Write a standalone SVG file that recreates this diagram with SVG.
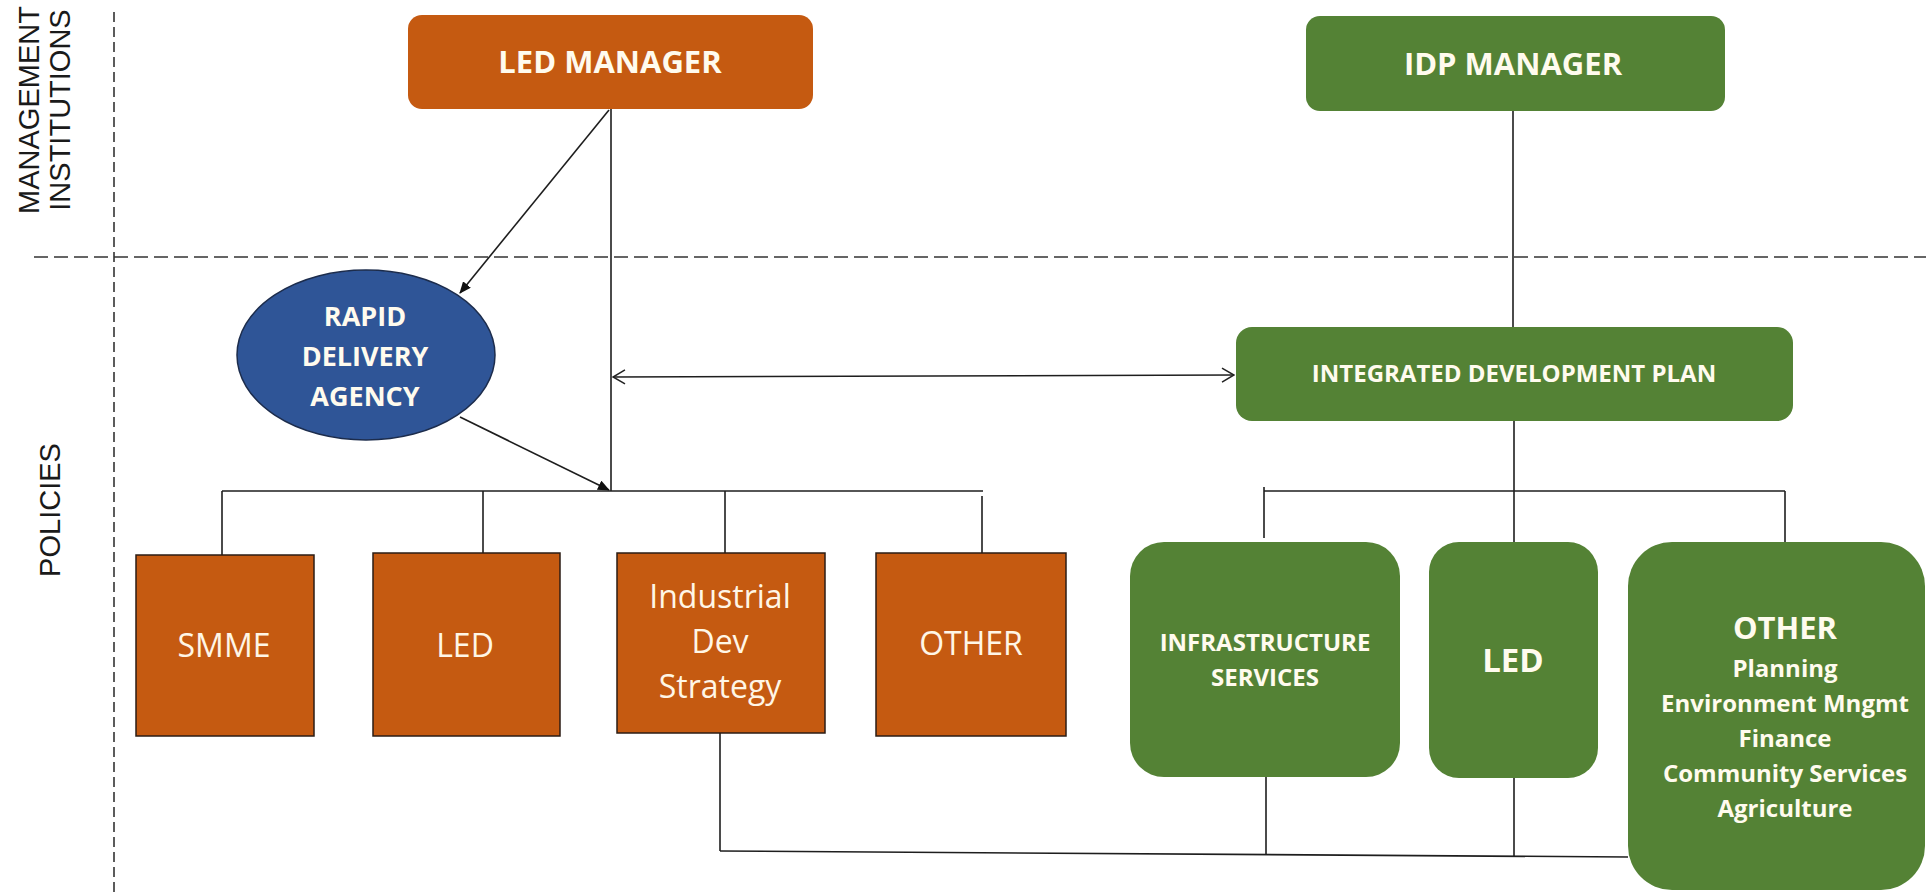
<svg xmlns="http://www.w3.org/2000/svg" width="1926" height="893" viewBox="0 0 1926 893">
  <style>
    .lbl { font-family: "Liberation Sans", Arial, sans-serif; font-size: 29px; fill: #1a1a1a; }
    .b { font-family: "Open Sans", "Liberation Sans", sans-serif; font-weight: 700; fill: #fffbee; text-anchor: middle; }
    .r { font-family: "Open Sans", "Liberation Sans", sans-serif; font-weight: 400; fill: #fff6e6; text-anchor: middle; font-size: 32px; }
    .orange { fill: #c55a11; }
    .obox { fill: #c55a11; stroke: #2b1d14; stroke-width: 1.5; }
    .green { fill: #548235; }
    .wire { stroke: #1e1e1e; stroke-width: 1.6; fill: none; }
    .guide { stroke: #333; stroke-width: 1.6; fill: none; }
  </style>
  <defs>
    <marker id="solid" viewBox="0 0 12 10" refX="11" refY="5" markerWidth="12" markerHeight="10" markerUnits="userSpaceOnUse" orient="auto">
      <path d="M0,0 L12,5 L0,10 z" fill="#111"/>
    </marker>
    <marker id="open" viewBox="0 0 14 16" refX="13" refY="8" markerWidth="14" markerHeight="16" markerUnits="userSpaceOnUse" orient="auto-start-reverse">
      <path d="M1,1 L13,8 L1,15" fill="none" stroke="#222" stroke-width="1.5"/>
    </marker>
  </defs>

  <rect width="1926" height="893" fill="#ffffff"/>

  <!-- section guides -->
  <g id="guides">
    <line class="guide" x1="34" y1="257" x2="1926" y2="257" stroke-dasharray="14 6"/>
    <line class="guide" x1="114" y1="12" x2="114" y2="893" stroke-width="1.3" stroke-dasharray="10 5"/>
    <text class="lbl" transform="translate(39,110) rotate(-90)" text-anchor="middle">MANAGEMENT</text>
    <text class="lbl" transform="translate(70,110) rotate(-90)" text-anchor="middle">INSTITUTIONS</text>
    <text class="lbl" transform="translate(60,510) rotate(-90)" text-anchor="middle" font-size="27">POLICIES</text>
  </g>

  <!-- connectors -->
  <g id="connectors">
    <line class="wire" x1="611" y1="109" x2="611" y2="491"/>
    <line class="wire" x1="609" y1="110" x2="460" y2="293" marker-end="url(#solid)"/>
    <line class="wire" x1="460" y1="417" x2="609" y2="490" marker-end="url(#solid)"/>
    <line class="wire" x1="613" y1="377" x2="1234" y2="375" marker-start="url(#open)" marker-end="url(#open)"/>
    <!-- LED bus -->
    <line class="wire" x1="222" y1="491" x2="983" y2="491"/>
    <line class="wire" x1="222" y1="491" x2="222" y2="555"/>
    <line class="wire" x1="483" y1="491" x2="483" y2="553"/>
    <line class="wire" x1="725" y1="491" x2="725" y2="553"/>
    <line class="wire" x1="982" y1="496" x2="982" y2="553"/>
    <!-- IDP bus -->
    <line class="wire" x1="1513" y1="111" x2="1513" y2="327"/>
    <line class="wire" x1="1514" y1="421" x2="1514" y2="542"/>
    <line class="wire" x1="1264" y1="491" x2="1785" y2="491"/>
    <line class="wire" x1="1264" y1="487" x2="1264" y2="538"/>
    <line class="wire" x1="1785" y1="491" x2="1785" y2="542"/>
    <!-- bottom link -->
    <line class="wire" x1="720" y1="733" x2="720" y2="851"/>
    <line class="wire" x1="720" y1="851" x2="1628" y2="857"/>
    <line class="wire" x1="1266" y1="777" x2="1266" y2="855"/>
    <line class="wire" x1="1514" y1="778" x2="1514" y2="857"/>
  </g>

  <g id="led-manager">
    <rect class="orange" x="408" y="15" width="405" height="94" rx="14"/>
    <text class="b" x="610" y="73" font-size="31">LED MANAGER</text>
  </g>

  <g id="idp-manager">
    <rect class="green" x="1306" y="16" width="419" height="95" rx="14"/>
    <text class="b" x="1513" y="75" font-size="31">IDP MANAGER</text>
  </g>

  <g id="rapid-delivery-agency">
    <ellipse cx="366" cy="355" rx="129" ry="85" fill="#2f5597" stroke="#1c2c4c" stroke-width="1.5"/>
    <text class="b" font-size="27"><tspan x="365" y="326">RAPID</tspan><tspan x="365" y="366">DELIVERY</tspan><tspan x="365" y="406">AGENCY</tspan></text>
  </g>

  <g id="integrated-development-plan">
    <rect class="green" x="1236" y="327" width="557" height="94" rx="16"/>
    <text class="b" x="1514" y="382" font-size="24">INTEGRATED DEVELOPMENT PLAN</text>
  </g>

  <g id="smme">
    <rect class="obox" x="136" y="555" width="178" height="181"/>
    <text class="r" x="224" y="657">SMME</text>
  </g>

  <g id="led-policy">
    <rect class="obox" x="373" y="553" width="187" height="183"/>
    <text class="r" x="465" y="657">LED</text>
  </g>

  <g id="industrial-dev-strategy">
    <rect class="obox" x="617" y="553" width="208" height="180"/>
    <text class="r"><tspan x="720" y="608">Industrial</tspan><tspan x="720" y="653">Dev</tspan><tspan x="720" y="698">Strategy</tspan></text>
  </g>

  <g id="other-policy">
    <rect class="obox" x="876" y="553" width="190" height="183"/>
    <text class="r" x="971" y="655">OTHER</text>
  </g>

  <g id="infrastructure-services">
    <rect class="green" x="1130" y="542" width="270" height="235" rx="34"/>
    <text class="b" font-size="24"><tspan x="1265" y="651">INFRASTRUCTURE</tspan><tspan x="1265" y="686">SERVICES</tspan></text>
  </g>

  <g id="led-idp">
    <rect class="green" x="1429" y="542" width="169" height="236" rx="30"/>
    <text class="b" x="1513" y="672" font-size="33">LED</text>
  </g>

  <g id="other-idp">
    <rect class="green" x="1628" y="542" width="297" height="348" rx="44"/>
    <text class="b" x="1785" y="639" font-size="31">OTHER</text>
    <text class="b" font-size="24"><tspan x="1785" y="677">Planning</tspan><tspan x="1785" y="712">Environment Mngmt</tspan><tspan x="1785" y="747">Finance</tspan><tspan x="1785" y="782">Community Services</tspan><tspan x="1785" y="817">Agriculture</tspan></text>
  </g>
</svg>
